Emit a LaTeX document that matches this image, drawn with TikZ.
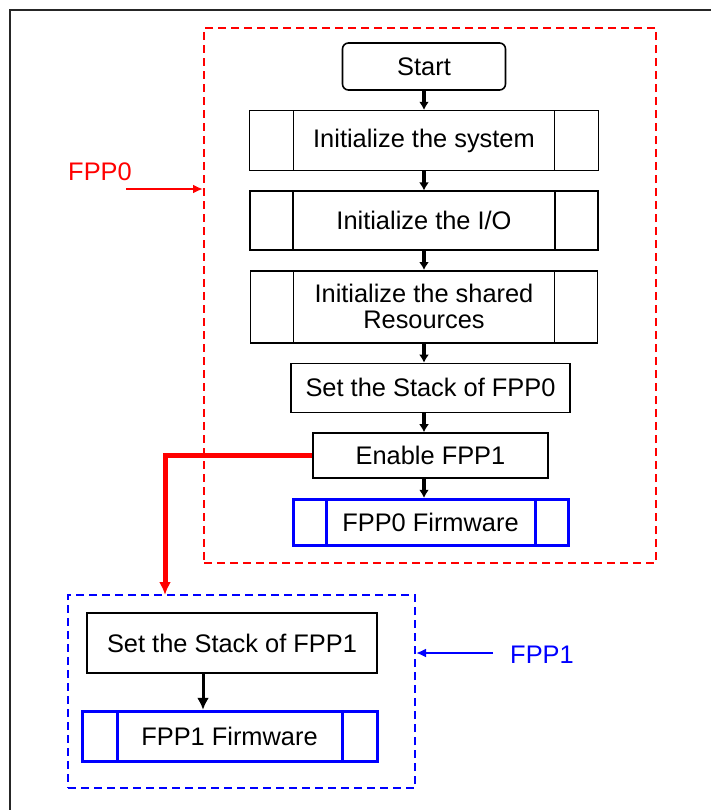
\documentclass[tikz,border=0pt]{standalone}
\usepackage{fontspec}
\setmainfont{Liberation Sans}
\usetikzlibrary{arrows.meta,positioning}

\begin{document}
\begin{tikzpicture}[node distance=9.5pt, every node/.style={font=\fontsize{12.7}{13}\selectfont},
  st/.style={draw, line width=0.8pt, align=center, inner sep=2pt},
  sub/.style={st, path picture={\draw[line width=0.8pt] ([xshift=#1]path picture bounding box.south west) -- ([xshift=#1]path picture bounding box.north west) ([xshift=-#1]path picture bounding box.south east) -- ([xshift=-#1]path picture bounding box.north east);}},
  fw/.style={draw=blue, line width=1.5pt, align=center, inner sep=2pt, path picture={\draw[blue, line width=1.5pt] ([xshift=#1]path picture bounding box.south west) -- ([xshift=#1]path picture bounding box.north west) ([xshift=-#1]path picture bounding box.south east) -- ([xshift=-#1]path picture bounding box.north east);}},
  grp/.style={line width=1pt, dash pattern=on 4pt off 2.5pt},
  arr/.style={-{Latex[length=4pt,width=5pt]}, line width=2pt},
  arr2/.style={-{Latex[length=6pt,width=6pt]}, line width=1.5pt},
  lbl/.style={-{Latex[length=5pt,width=4.5pt]}, line width=1.2pt},
  en/.style={-{Latex[length=6.5pt,width=6pt]}, line width=2.5pt, red}]
\useasboundingbox (0,0) rectangle (355.5pt,-405pt);
\draw[line width=1.1pt, black!85] (355.5pt,-5pt) -- (5pt,-5pt) -- (5pt,-405pt);
% groups
\node[grp, draw=red, minimum width=226pt, minimum height=267.5pt] (g0) at (215pt,-147.75pt) {};
\node[grp, draw=blue, minimum width=173.5pt, minimum height=96.5pt] (g1) at (120.75pt,-345.75pt) {};
% FPP0
\node[st, rounded corners=3pt, minimum width=81.5pt, minimum height=23.5pt] (s0) at (212pt,-33.25pt) {Start};
\node[sub=22pt, minimum width=174.5pt, minimum height=30pt, below=of s0] (s1) {Initialize the system};
\node[sub=21.5pt, minimum width=174pt, minimum height=29.5pt, below=of s1] (s2) {Initialize the I/O};
\node[sub=21.5pt, minimum width=173.5pt, minimum height=36pt, below=of s2] (s3) {Initialize the shared\\Resources};
\node[st, minimum width=139.5pt, minimum height=24.5pt, below=of s3, xshift=3.25pt] (s4) {Set the Stack of FPP0};
\node[st, minimum width=117.5pt, minimum height=22.5pt, below=of s4] (s5) {Enable FPP1};
\node[fw=16.5pt, minimum width=137.5pt, minimum height=23pt, below=of s5] (s6) {FPP0 Firmware};
% FPP1
\node[st, minimum width=145pt, minimum height=30pt] (s7) at (116pt,-321.5pt) {Set the Stack of FPP1};
\node[fw=17.5pt, minimum width=147.5pt, minimum height=25pt, below=18pt of s7, xshift=-1.25pt] (s8) {FPP1 Firmware};
% labels
\node[text=red] (l0) at (50pt,-86pt) {FPP0};
\node[text=blue] (l1) at (271pt,-327.5pt) {FPP1};
\coordinate (a0) at (63pt,-94.5pt);
\coordinate (a1) at (246.5pt,-326.5pt);
\coordinate (j) at (82.5pt,-297.5pt);
\draw[arr] (s0)--(s1); \draw[arr] (s1)--(s2); \draw[arr] (s2)--(s3); \draw[arr] (s3.south)--(s3.south |- s4.north); \draw[arr] (s4.south -| s0)--(s5.north -| s0); \draw[arr] (s5.south -| s0)--(s6.north -| s0);
\draw[arr2] ([xshift=-14.5pt]s7.south)--([xshift=-14.5pt]s7.south |- s8.north);
\draw[lbl, red] (a0)--(a0 -| g0.west); \draw[lbl, blue] (a1)--(a1 -| g1.east);
\draw[en] (s5.west) -| (j);
\end{tikzpicture}
\end{document}
